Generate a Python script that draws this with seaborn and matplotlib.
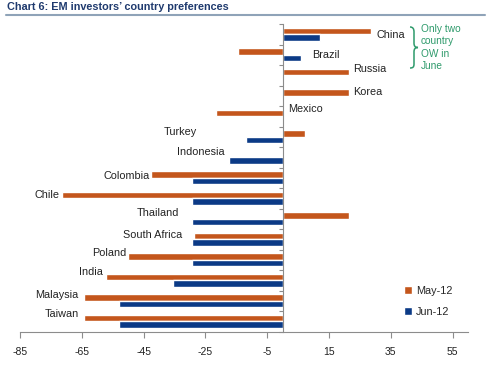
import numpy as np
import pandas as pd
import seaborn as sns
import matplotlib.pyplot as plt
from matplotlib.lines import Line2D
from matplotlib.path import Path
from matplotlib.patches import PathPatch

countries = ['China', 'Brazil', 'Russia', 'Korea', 'Mexico', 'Turkey', 'Indonesia',
             'Colombia', 'Chile', 'Thailand', 'South Africa', 'Poland', 'India',
             'Malaysia', 'Taiwan']
may12 = [28.6, -14.3, 21.5, 21.5, -21.5, 7.2, 0.0, -42.7, -71.5, 21.6, -28.7, -50.1, -57.2, -64.2, -64.2]
jun12 = [12.0, 5.8, 0.0, 0.0, 0.0, -11.9, -17.5, -29.3, -29.3, -29.3, -29.3, -29.3, -35.4, -52.9, -52.9]
series = ['May-12', 'Jun-12']
xticks = list(range(-85, 56, 20))

# annotation placement for country labels (data units / category offsets)
label_x = [30.3, 9.6, 22.9, 22.9, 1.8, -27.7, -18.9, -42.9, -72.1, -33.5, -32.5, -50.7, -58.2, -66.0, -66.0]
label_dy = [0.03, 0.0, -0.29, -0.2, -0.37, -0.24, -0.27, -0.09, -0.17, -0.28, -0.19, -0.33, -0.4, -0.26, -0.37]

c_may = '#C4561C'
c_jun = '#0B3A86'
grey = '#8C8C8C'

sns.set_style('white')
plt.rcParams['font.family'] = ['Liberation Sans Narrow', 'Liberation Sans', 'DejaVu Sans']
plt.rcParams['axes.unicode_minus'] = False

fig = plt.figure(figsize=(5, 3.75), dpi=100)
ax = fig.add_axes([20/500, 1-331.5/375, 448/500, 307.5/375])

df = pd.DataFrame({'country': countries * 2,
                   'value': may12 + jun12,
                   'month': [series[0]] * len(countries) + [series[1]] * len(countries)})
sns.barplot(data=df, y='country', x='value', hue='month', orient='h',
            palette=[c_may, c_jun], width=0.63, saturation=1, errorbar=None, ax=ax)

ax.set_xlim(-85, 60)
ax.set_ylim(len(countries) - 0.5, -0.5)
ax.set_xticks(xticks)
ax.set_xticklabels([str(t) for t in xticks])
ax.set_yticks(np.arange(-0.5, len(countries), 1))
ax.set_yticklabels([])
ax.set_xlabel('')
ax.set_ylabel('')
for s in ['top', 'right']:
    ax.spines[s].set_visible(False)
ax.spines['left'].set_position(('data', 0))
ax.spines['left'].set_color(grey)
ax.spines['bottom'].set_color(grey)
ax.spines['left'].set_linewidth(0.8)
ax.spines['bottom'].set_linewidth(0.8)
ax.tick_params(axis='y', left=True, length=3, color=grey, direction='out', width=0.8)
ax.tick_params(axis='x', bottom=True, length=4, color=grey, direction='out', width=0.8,
               pad=7, labelsize=7.5, labelcolor='#222222')

for i, (c, lx, dy) in enumerate(zip(countries, label_x, label_dy)):
    ax.text(lx, i + dy, c, ha='left' if lx > 0 else 'right', va='center',
            fontsize=7.8, color='#222222')

handles, labels = ax.get_legend_handles_labels()
if ax.legend_ is not None:
    ax.legend_.remove()
fig.legend(handles, labels, loc='upper left', bbox_to_anchor=(404/500, 1-286/375),
           frameon=False, fontsize=7.8, handlelength=0.7, handleheight=0.7,
           handletextpad=0.4, labelspacing=1.0, borderaxespad=0, borderpad=0)

# title and underline
fig.text(7/500, 1-7.5/375, 'Chart 6: EM investors\u2019 country preferences',
         fontweight='bold', color='#1F3A6E', fontsize=7.8, va='center', ha='left')
fig.add_artist(Line2D([6/500, 485/500], [1-15/375, 1-15/375], color='#8FA3B8', lw=1.5))

# green brace annotation
def P(x, y):
    return (x/500, 1 - y/375)
verts = [P(410, 27), P(413, 27), P(414, 29), P(414, 32),
         P(414, 43),
         P(414, 46), P(415, 47.5), P(418, 47.5),
         P(415, 47.5), P(414, 49), P(414, 52),
         P(414, 64),
         P(414, 67), P(413, 68), P(410, 68)]
codes = [Path.MOVETO, Path.CURVE4, Path.CURVE4, Path.CURVE4,
         Path.LINETO,
         Path.CURVE4, Path.CURVE4, Path.CURVE4,
         Path.CURVE4, Path.CURVE4, Path.CURVE4,
         Path.LINETO,
         Path.CURVE4, Path.CURVE4, Path.CURVE4]
fig.add_artist(PathPatch(Path(verts, codes), transform=fig.transFigure,
                         fill=False, edgecolor='#2E9A6B', lw=1.1))
fig.text(421/500, 1-24/375, 'Only two\ncountry\nOW in\nJune', va='top', ha='left',
         color='#2E9A6B', fontsize=7.3, linespacing=1.3)

fig.savefig('out.png', dpi=100)
